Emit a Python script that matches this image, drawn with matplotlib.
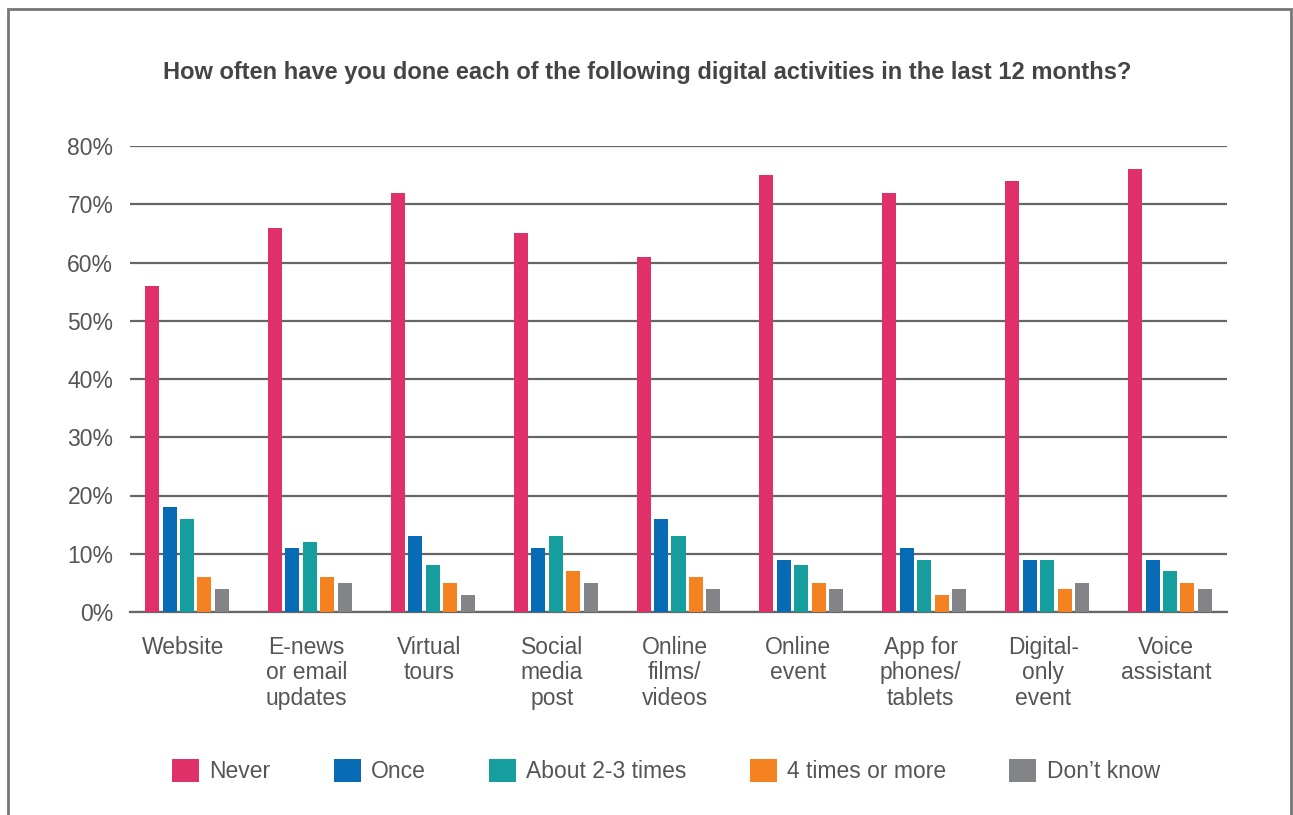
import matplotlib
matplotlib.use("Agg")
import matplotlib.pyplot as plt
import numpy as np
from matplotlib.patches import Rectangle

plt.rcParams['font.family'] = ['Liberation Sans', 'DejaVu Sans']

categories = ["Website", "E-news\nor email\nupdates", "Virtual\ntours", "Social\nmedia\npost",
              "Online\nfilms/\nvideos", "Online\nevent", "App for\nphones/\ntablets",
              "Digital-\nonly\nevent", "Voice\nassistant"]
series_names = ["Never", "Once", "About 2-3 times", "4 times or more", "Don\u2019t know"]
never = [56, 66, 72, 65, 61, 75, 72, 74, 76]
once = [18, 11, 13, 11, 16, 9, 11, 9, 9]
about_2_3 = [16, 12, 8, 13, 13, 8, 9, 9, 7]
four_plus = [6, 6, 5, 7, 6, 5, 3, 4, 5]
dont_know = [4, 5, 3, 5, 4, 4, 4, 5, 4]
yticks = [0, 10, 20, 30, 40, 50, 60, 70, 80]

colors = ["#E0306A", "#076BB6", "#169E9F", "#F58220", "#838487"]
text_col = "#555555"

W, H = 1293, 815
fig = plt.figure(figsize=(W / 100, H / 100), dpi=100)
ax = fig.add_axes([130 / W, 1 - 612 / H, (1227 - 130) / W, (612 - 146) / H])

# outer frame
fig.patches.append(Rectangle((8 / W, -0.05), (1291 - 8) / W, 1.05 - 9 / H,
                             transform=fig.transFigure, fill=False,
                             edgecolor="#777777", linewidth=2))

x = np.arange(len(categories))
pitch = 0.142
width = 0.114
all_series = [never, once, about_2_3, four_plus, dont_know]
for i, (vals, name, c) in enumerate(zip(all_series, series_names, colors)):
    ax.bar(x + (i - 2) * pitch, vals, width=width, color=c, label=name, zorder=3)

ax.set_xlim(-0.464, len(categories) - 1 + 0.464)
ax.set_ylim(0, 80)
ax.set_yticks(yticks)
ax.set_yticklabels([f"{v}%" for v in yticks], fontsize=16.5, color=text_col)
ax.yaxis.grid(True, color="#666666", linewidth=1.6, zorder=0)
ax.tick_params(axis="y", length=0, pad=12)
ax.set_xticks(x - 0.03)
ax.set_xticklabels(categories, fontsize=16.5, color=text_col, linespacing=1.16)
ax.tick_params(axis="x", length=0, pad=17)
for s in ["top", "right", "left"]:
    ax.spines[s].set_visible(False)
ax.spines["bottom"].set_color("#666666")
ax.spines["bottom"].set_linewidth(1.6)

fig.text(647 / W, 1 - 73 / H, "How often have you done each of the following digital activities in the last 12 months?",
         ha="center", va="center", fontsize=17, fontweight="bold", color="#444444")

fig.legend(loc="center", bbox_to_anchor=(666 / W, 1 - 771 / H), ncol=5, frameon=False,
           fontsize=16.5, labelcolor=text_col, handlelength=1.18, handleheight=1.18,
           handletextpad=0.45, columnspacing=2.75)

fig.savefig("out.png", dpi=100, facecolor="white")
